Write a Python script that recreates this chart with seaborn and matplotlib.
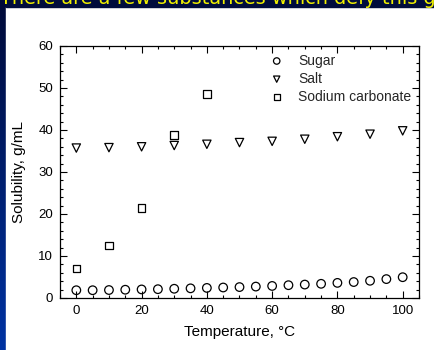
import numpy as np
import pandas as pd
import matplotlib
matplotlib.use("Agg")
import matplotlib.pyplot as plt
import seaborn as sns
from matplotlib.ticker import MultipleLocator
from matplotlib.colors import LinearSegmentedColormap

# ---- data ----
sugar_temp = [0, 5, 10, 15, 20, 25, 30, 35, 40, 45, 50, 55, 60, 65, 70, 75, 80, 85, 90, 95, 100]
sugar_sol = [1.85, 1.85, 1.9, 1.97, 2.04, 2.1, 2.2, 2.3, 2.4, 2.5, 2.6, 2.72, 2.87, 3.05, 3.2, 3.38, 3.6, 3.8, 4.1, 4.5, 4.95]
salt_temp = [0, 10, 20, 30, 40, 50, 60, 70, 80, 90, 100]
salt_sol = [35.7, 35.8, 36.0, 36.3, 36.6, 37.0, 37.3, 37.8, 38.4, 39.0, 39.8]
soda_temp = [0, 10, 20, 30, 40]
soda_sol = [7.0, 12.5, 21.5, 38.8, 48.5]
series_names = ["Sugar", "Salt", "Sodium carbonate"]
xlabel = "Temperature, °C"
ylabel = "Solubility, g/mL"
title_text = "There are a few substances which defy this general rule"

sns.set_theme(style="ticks")
plt.rcParams['font.family'] = ['Liberation Sans', 'DejaVu Sans']

fig = plt.figure(figsize=(4.35, 3.5), dpi=100)
fig.patch.set_facecolor("#000c3c")

# background: left gradient strip and white slide area
bg = fig.add_axes([0, 0, 1, 1], zorder=-10)
grad = np.linspace(0, 1, 256).reshape(-1, 1)
cmap = LinearSegmentedColormap.from_list("g", ["#000a38", "#0033a3"])
bg.imshow(grad, aspect="auto", cmap=cmap, extent=[0, 1, 1, 0])
bg.add_patch(plt.Rectangle((6 / 435, 0), 1, 1 - 7 / 350, color="white",
                           transform=bg.transAxes, zorder=2))
bg.add_patch(plt.Rectangle((6 / 435, 1 - 7 / 350), 1, 7 / 350, color="#000c3c",
                           transform=bg.transAxes, zorder=2))
bg.set_xlim(0, 1); bg.set_ylim(1, 0)
bg.axis("off")
fig.text(0.0, 1 - 3.5 / 350, title_text, color="#f0f000", fontsize=13.9,
         family="DejaVu Sans", va="baseline", ha="left")

ax = fig.add_axes([60 / 435, 1 - 298 / 350, (419 - 60) / 435, (298 - 46) / 350])
ax.set_facecolor("white")

common = dict(facecolor="none", edgecolor="black", linewidth=0.9, ax=ax, zorder=3)
sns.scatterplot(x=sugar_temp, y=sugar_sol, marker="o", s=38, label=series_names[0], **common)
sns.scatterplot(x=salt_temp, y=salt_sol, marker="v", s=36, label=series_names[1], **common)
sns.scatterplot(x=soda_temp, y=soda_sol, marker="s", s=30, label=series_names[2], **common)

ax.set_xlim(-5, 105)
ax.set_ylim(0, 60)
ax.xaxis.set_major_locator(MultipleLocator(20))
ax.xaxis.set_minor_locator(MultipleLocator(5))
ax.yaxis.set_major_locator(MultipleLocator(10))
ax.yaxis.set_minor_locator(MultipleLocator(2))
ax.tick_params(which="both", direction="in", top=True, right=True, color="black",
               width=0.8, labelsize=9.5, labelcolor="black")
ax.tick_params(which="major", length=5, pad=5)
ax.tick_params(which="minor", length=2.5)
for sp in ax.spines.values():
    sp.set_visible(True)
    sp.set_color("black")
    sp.set_linewidth(0.9)

ax.set_xlabel(xlabel, fontsize=11, color="black", labelpad=6)
ax.set_ylabel(ylabel, fontsize=11, color="black", labelpad=9)

leg = ax.legend(loc="upper right", frameon=False, fontsize=10, handletextpad=0.55,
                labelspacing=0.3, borderaxespad=0.3, borderpad=0.25, markerscale=0.75)

fig.savefig("out.png", dpi=100, facecolor=fig.get_facecolor())
